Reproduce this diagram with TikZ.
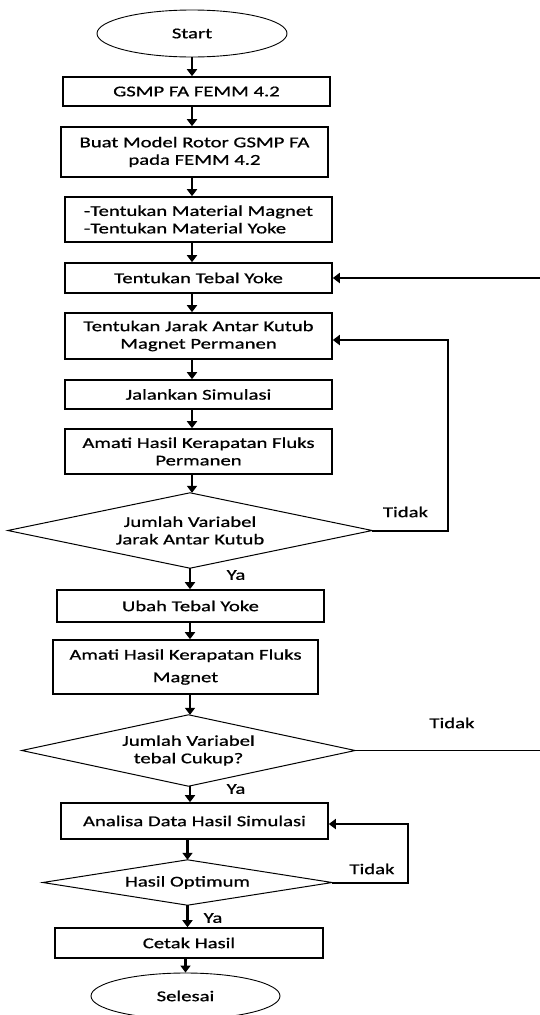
\documentclass[tikz,border=0pt]{standalone}
\usepackage{fontspec}
\setmainfont{Carlito}[FakeStretch=1.38,FakeBold=0.8]
\usetikzlibrary{arrows.meta,shapes.geometric}
\begin{document}
\begin{tikzpicture}[x=1pt,y=-1pt,
  txt/.style={font=\fontsize{15}{17.5}\selectfont},
  box/.style={txt, draw, line width=1.6pt, rectangle, inner sep=0pt, align=center},
  term/.style={txt, draw, line width=0.9pt, ellipse, inner sep=0pt},
  dec/.style={txt, inner sep=0pt, align=center},
  decline/.style={line width=1pt, line join=miter},
  arr/.style={line width=2.8pt, -{Triangle[length=7pt,width=10pt]}},
  loopline/.style={line width=2pt, -{Triangle[length=7pt,width=10pt]}},
  lbl/.style={txt, inner sep=0pt}]
\useasboundingbox (0,0) rectangle (539,1015);

\node[term, minimum width=190, minimum height=47] (start) at (192,33.5) {Start};
\node[box, minimum width=267, minimum height=29] (b1) at (196.5,91.5) {GSMP FA FEMM 4.2};
\node[box, minimum width=267, minimum height=50] (b2) at (194.5,152) {Buat Model Rotor GSMP FA\\pada FEMM 4.2};
\node[box, minimum width=267, minimum height=45, align=left] (b3) at (198.5,219.5) {-Tentukan Material Magnet\\-Tentukan Material Yoke};
\node[box, minimum width=267, minimum height=30] (b4) at (198.5,278) {Tentukan Tebal Yoke};
\node[box, minimum width=267, minimum height=46] (b5) at (198.5,336) {Tentukan Jarak Antar Kutub\\Magnet Permanen};
\node[box, minimum width=267, minimum height=29] (b6) at (198.5,394.5) {Jalankan Simulasi};
\node[box, minimum width=267, minimum height=45] (b7) at (198.5,451.5) {Amati Hasil Kerapatan Fluks\\Permanen};
\node[dec, minimum width=364, minimum height=75] (d1) at (190,530.5) {Jumlah Variabel\\Jarak Antar Kutub};
\draw[decline] (d1.north) -- (d1.east) -- (d1.south) -- (d1.west) -- cycle;
\node[box, minimum width=267, minimum height=32] (b8) at (190.5,606) {Ubah Tebal Yoke};
\node[box, minimum width=265, minimum height=54] (b9) at (185.5,667) {Amati Hasil Kerapatan Fluks\\[5pt]Magnet};
\node[dec, minimum width=333, minimum height=71] (d2) at (188.5,750.5) {Jumlah Variabel\\tebal Cukup?};
\draw[decline] (d2.north) -- (d2.east) -- (d2.south) -- (d2.west) -- cycle;
\node[box, minimum width=267, minimum height=36] (b10) at (194.5,821) {Analisa Data Hasil Simulasi};
\node[dec, minimum width=289, minimum height=45] (d3) at (187.5,882.5) {Hasil Optimum};
\draw[decline] (d3.north) -- (d3.east) -- (d3.south) -- (d3.west) -- cycle;
\node[box, minimum width=268, minimum height=30] (b11) at (189,943) {Cetak Hasil};
\node[term, minimum width=189, minimum height=46] (stop) at (185.5,996) {Selesai};

% main flow
\draw[arr] (start.south) -- (start.south |- b1.north);
\draw[arr] (b1.south -| start.south) -- (start.south |- b2.north);
\draw[arr] (b2.south -| start.south) -- (start.south |- b3.north);
\draw[arr] (b3.south -| start.south) -- (start.south |- b4.north);
\draw[arr] (b4.south -| start.south) -- (start.south |- b5.north);
\draw[arr] (b5.south -| start.south) -- (start.south |- b6.north);
\draw[arr] (b6.south -| start.south) -- (start.south |- b7.north);
\draw[arr] (b7.south -| start.south) -- (start.south |- d1.north);
\draw[arr] (d1.south) -- (d1.south |- b8.north);
\draw[arr] (b8.south -| d1.south) -- (d1.south |- b9.north);
\draw[arr] (b9.south -| d1.south) -- (d1.south |- d2.north);
\draw[arr] (d2.south -| d1.south) -- (d1.south |- b10.north);
\draw[arr] (b10.south -| d3.south) -- (d3.north);
\draw[arr] (d3.south) -- (d3.south |- b11.north);
\draw[arr] (b11.south -| stop.north) -- (stop.north);

% loops
\draw[loopline] (d1.east) -- ++(76,0) |- ([yshift=-4pt]b5.east);
\coordinate (rt) at (548,752);
\draw[line width=1pt] (d2.east) -- (d2.east -| rt);
\draw[arr] (rt |- b4.east) -- (b4.east);
\draw[loopline] (d3.east) -- ++(76,0) |- ([yshift=-3pt]b10.east);

% labels
\node[lbl] (t1) at (405.5,512) {Tidak};
\node[lbl] (t2) at (452,723) {Tidak};
\node[lbl] (t3) at (372,869) {Tidak};
\node[lbl] (y1) at (236,575) {Ya};
\node[lbl] (y2) at (236,789) {Ya};
\node[lbl] (y3) at (213,918) {Ya};
\end{tikzpicture}
\end{document}
